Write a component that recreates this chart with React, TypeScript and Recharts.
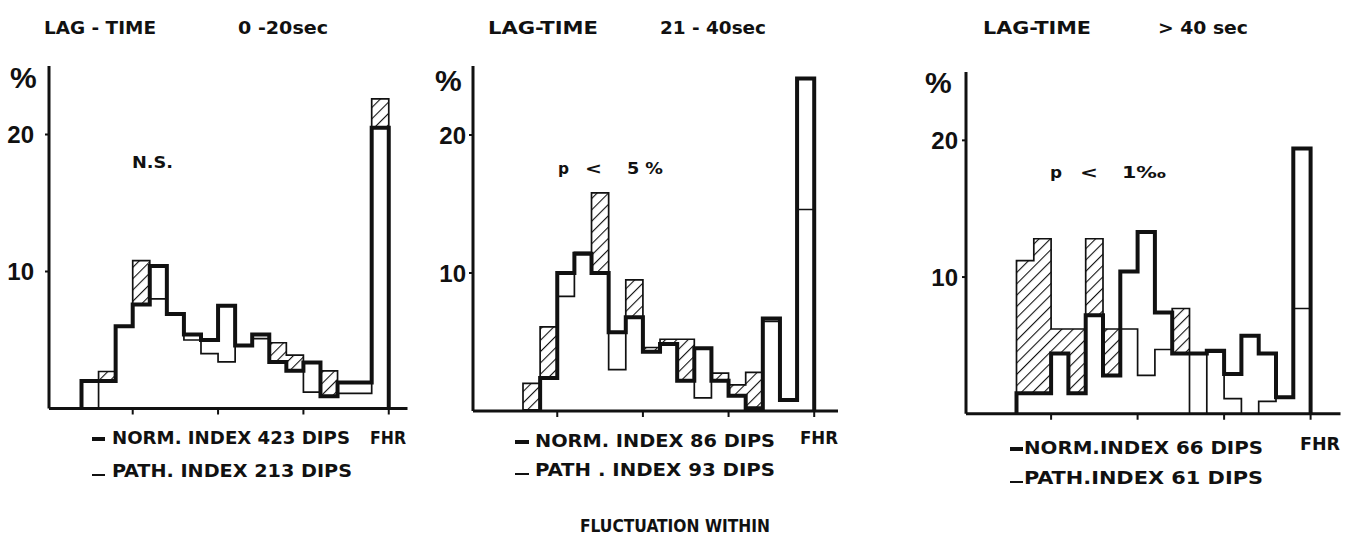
import React from 'react';
import { ComposedChart, Area, Line, XAxis, YAxis } from 'recharts';

// % of dips per FHR-fluctuation bin, left to right; the last bin is the FHR column
const norm1 = [2.0, 2.0, 6.0, 7.6, 10.4, 6.9, 5.4, 5.0, 7.5, 4.6, 5.4, 3.4, 2.75, 3.35, 0.9, 1.9, 1.9, 20.5];
const path1 = [0, 2.7, 6.0, 10.8, 8.0, 6.9, 5.0, 4.0, 3.4, 4.6, 5.1, 4.8, 3.9, 1.2, 2.75, 1.1, 1.1, 22.6];

const norm2 = [0, 2.4, 10.0, 11.4, 10.0, 5.7, 6.8, 4.3, 4.85, 2.2, 4.55, 2.2, 1.1, 0.2, 6.7, 0.8, 24.1];
const path2 = [2.0, 6.1, 8.3, 11.5, 15.8, 3.0, 9.5, 4.6, 5.2, 5.2, 0.95, 2.75, 1.9, 2.8, 6.5, 0.8, 14.6];

const norm3 = [1.5, 1.5, 4.4, 1.5, 7.2, 2.8, 10.4, 13.3, 7.4, 4.4, 4.4, 4.6, 2.9, 5.7, 4.4, 1.2, 19.4];
const path3 = [11.2, 12.8, 6.2, 6.2, 12.8, 6.2, 6.2, 2.8, 4.7, 7.7, 0, 4.5, 1.1, 0, 0.9, 1.2, 7.7];

const yTicks = [10, 20];
const xTicks1 = [3, 8, 13, 18];
const xTicks23 = [2, 7, 12, 17];

const titles = [
  ['LAG - TIME', '0 -20sec'],
  ['LAG-TIME', '21 - 40sec'],
  ['LAG-TIME', '> 40 sec'],
];
const legendNorm = ['NORM. INDEX  423 DIPS', 'NORM. INDEX  86 DIPS', 'NORM.INDEX  66 DIPS'];
const legendPath = ['PATH. INDEX  213 DIPS', 'PATH . INDEX  93 DIPS', 'PATH.INDEX  61 DIPS'];

const INK = '#111';
const NUM_FONT = "'Liberation Sans', Arial, sans-serif";
const LABEL_FONT = "'Liberation Sans Narrow', 'DejaVu Sans Condensed', 'Liberation Sans', sans-serif";

type Row = { x: number; norm: number; path: number; hatch: [number, number] };

function toSteps(norm: number[], path: number[]): Row[] {
  const rows: Row[] = [{ x: 0, norm: 0, path: 0, hatch: [0, 0] }];
  norm.forEach((n, i) => {
    rows.push({ x: i, norm: n, path: path[i], hatch: [n, Math.max(n, path[i])] });
  });
  const k = norm.length - 1;
  rows.push({ x: norm.length, norm: norm[k], path: path[k], hatch: [norm[k], Math.max(norm[k], path[k])] });
  rows.push({ x: norm.length, norm: 0, path: 0, hatch: [0, 0] });
  return rows;
}

const panels = [
  { id: 'a', norm: norm1, path: path1, ticks: xTicks1, axisX: 48.5, zeroY: 408, unit: 13.7, bin0: 81, binW: 17.07, axisEnd: 407, gap: 15 },
  { id: 'b', norm: norm2, path: path2, ticks: xTicks23, axisX: 473, zeroY: 411, unit: 13.8, bin0: 523, binW: 17.13, axisEnd: 838, gap: 7 },
  { id: 'c', norm: norm3, path: path3, ticks: xTicks23, axisX: 965.5, zeroY: 413.5, unit: 13.67, bin0: 1016, binW: 17.3, axisEnd: 1340, gap: 8 },
];

function Panel({ p }: { p: (typeof panels)[number] }) {
  const yw = 45, mt = 10, mr = 10, xh = 20, mb = 10;
  const plotH = 25 * p.unit;
  const plotW = p.axisEnd - p.axisX;
  const xMin = (p.axisX - p.bin0) / p.binW;
  const xMax = (p.axisEnd - p.bin0) / p.binW;
  return (
    <div style={{ position: 'absolute', left: p.axisX - yw, top: p.zeroY - plotH - mt }}>
      <ComposedChart
        width={yw + plotW + mr}
        height={mt + plotH + xh + mb}
        data={toSteps(p.norm, p.path)}
        margin={{ top: mt, right: mr, bottom: mb, left: 0 }}
      >
        <defs>
          <pattern id={`hatch-${p.id}`} patternUnits="userSpaceOnUse" width={8} height={8} patternTransform="rotate(45)">
            <line x1={0} y1={0} x2={0} y2={8} stroke={INK} strokeWidth={2.2} />
          </pattern>
        </defs>
        <XAxis
          type="number"
          dataKey="x"
          domain={[xMin, xMax]}
          allowDataOverflow
          ticks={p.ticks}
          interval={0}
          height={xh}
          axisLine={{ stroke: INK, strokeWidth: 3 }}
          tickLine={{ stroke: INK, strokeWidth: 2 }}
          tickSize={6}
          tickFormatter={() => ''}
        />
        <YAxis
          type="number"
          domain={[0, 25]}
          allowDataOverflow
          ticks={yTicks}
          interval={0}
          width={yw}
          axisLine={{ stroke: INK, strokeWidth: 3 }}
          tickLine={{ stroke: INK, strokeWidth: 2 }}
          tickSize={4}
          tickMargin={p.gap - 4}
          tick={{ fill: INK, fontSize: 24, fontWeight: 700, fontFamily: NUM_FONT }}
        />
        <Area
          type="stepAfter"
          dataKey="hatch"
          stroke="none"
          fill={`url(#hatch-${p.id})`}
          fillOpacity={1}
          dot={false}
          activeDot={false}
          isAnimationActive={false}
        />
        <Line type="stepAfter" dataKey="path" stroke={INK} strokeWidth={1.7} dot={false} activeDot={false} isAnimationActive={false} />
        <Line type="stepAfter" dataKey="norm" stroke={INK} strokeWidth={4} dot={false} activeDot={false} isAnimationActive={false} />
      </ComposedChart>
    </div>
  );
}

function T({ x, y, w, size = 17, children }: { x: number; y: number; w: number; size?: number; children: React.ReactNode }) {
  return (
    <text x={x} y={y} textLength={w} lengthAdjust="spacingAndGlyphs" fontSize={size} fontWeight={700} fontFamily={LABEL_FONT} fill={INK}>
      {children}
    </text>
  );
}

export default function App() {
  return (
    <div style={{ position: 'absolute', left: 0, top: 0, width: 1350, height: 557, background: '#fff', overflow: 'hidden' }}>
      {panels.map((p) => (
        <Panel key={p.id} p={p} />
      ))}
      <svg width={1350} height={557} style={{ position: 'absolute', left: 0, top: 0, pointerEvents: 'none' }}>
        {/* lag-time headings */}
        <T x={44} y={34} w={112}>{titles[0][0]}</T>
        <T x={238} y={34} w={90}>{titles[0][1]}</T>
        <T x={488} y={34} w={110}>{titles[1][0]}</T>
        <T x={660} y={34} w={106}>{titles[1][1]}</T>
        <T x={983} y={34} w={108}>{titles[2][0]}</T>
        <T x={1158} y={34} w={90}>{titles[2][1]}</T>

        {/* % axis captions */}
        <text x={10} y={88} fontSize={30} fontWeight={700} fontFamily={NUM_FONT} fill={INK}>%</text>
        <text x={435} y={91} fontSize={30} fontWeight={700} fontFamily={NUM_FONT} fill={INK}>%</text>
        <text x={925} y={93} fontSize={30} fontWeight={700} fontFamily={NUM_FONT} fill={INK}>%</text>

        {/* significance notes */}
        <T x={132} y={168} w={41} size={16}>N.S.</T>
        <T x={558} y={174} w={11} size={16}>p</T>
        <T x={585} y={174} w={17} size={16}>&lt;</T>
        <T x={627} y={174} w={36} size={16}>5 %</T>
        <T x={1050} y={178} w={12} size={16}>p</T>
        <T x={1080} y={178} w={18} size={16}>&lt;</T>
        <T x={1122} y={178} w={44} size={16}>1‰</T>

        {/* FHR axis labels */}
        <T x={370} y={444} w={36}>FHR</T>
        <T x={800} y={444} w={38}>FHR</T>
        <T x={1300} y={450} w={40}>FHR</T>

        {/* legends */}
        <line x1={92} x2={105} y1={439} y2={439} stroke={INK} strokeWidth={4} />
        <T x={112} y={444} w={238}>{legendNorm[0]}</T>
        <line x1={92} x2={105} y1={475} y2={475} stroke={INK} strokeWidth={2} />
        <T x={112} y={477} w={240}>{legendPath[0]}</T>

        <line x1={515} x2={529} y1={442} y2={442} stroke={INK} strokeWidth={4} />
        <T x={535} y={447} w={240}>{legendNorm[1]}</T>
        <line x1={515} x2={529} y1={474} y2={474} stroke={INK} strokeWidth={2} />
        <T x={535} y={476} w={240}>{legendPath[1]}</T>

        <line x1={1010} x2={1023} y1={449} y2={449} stroke={INK} strokeWidth={4} />
        <T x={1024} y={454} w={239}>{legendNorm[2]}</T>
        <line x1={1010} x2={1023} y1={482} y2={482} stroke={INK} strokeWidth={2} />
        <T x={1024} y={484} w={239}>{legendPath[2]}</T>

        <T x={580} y={532} w={190}>FLUCTUATION WITHIN</T>
      </svg>
    </div>
  );
}
